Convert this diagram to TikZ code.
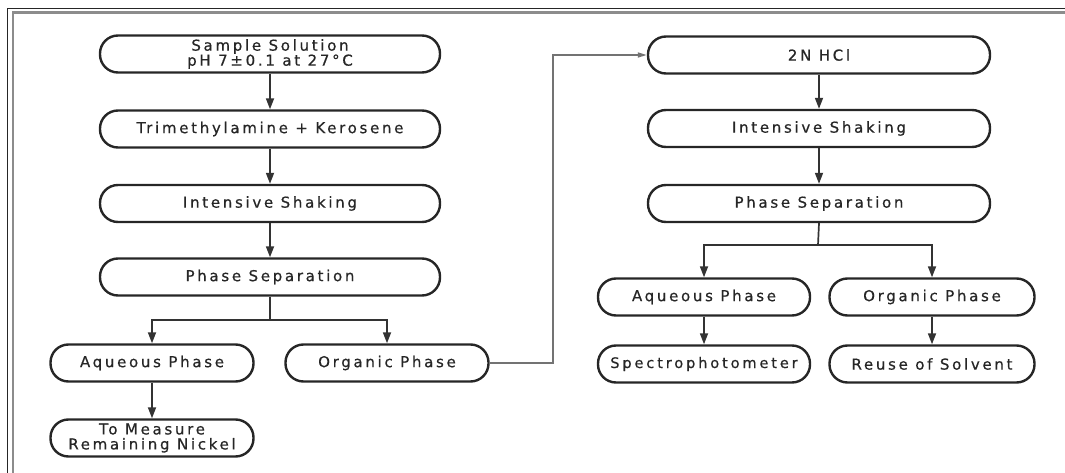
\documentclass[tikz,border=0pt]{standalone}
\usepackage{fontspec}
\setmainfont{DejaVu Sans}[LetterSpace=18, FakeBold=0.6]
\usetikzlibrary{arrows.meta}
\begin{document}
\begin{tikzpicture}[x=1pt,y=-1pt,
  box/.style={draw=black!85, line width=2.4pt, rounded corners=18pt,
    minimum height=37pt, inner sep=0pt, align=center,
    font=\fontsize{15}{15}\selectfont, text=black!85},
  widebox/.style={box, minimum width=340pt},
  smallbox/.style={box, minimum width=205pt},
  ln/.style={draw=black!80, line width=1.7pt},
  arr/.style={ln, -{Triangle[length=11pt,width=8pt]}},
  arrg/.style={draw=black!55, line width=1.6pt, -{Triangle[length=9pt,width=5pt]}},
]
\useasboundingbox (0,0) rectangle (1065,473);
% frame
\draw[black!85, line width=1.4pt] (7.5,473) -- (7.5,8.5) -- (1065,8.5);
\draw[black!45, line width=2.6pt] (13,473) -- (13,12.5) -- (1065,12.5);

% left column
\node[widebox] (s1) at (270,54) {Sample Solution\\pH 7±0.1 at 27°C};
\node[widebox] (tk) at (270,129) {Trimethylamine + Kerosene};
\node[widebox] (is1) at (270,203.5) {Intensive Shaking};
\node[widebox] (ps1) at (270,277) {Phase Separation};
\node[smallbox, minimum width=203pt] (aq1) at (152,363) {Aqueous Phase};
\node[smallbox, minimum width=203pt] (or1) at (387,363) {Organic Phase};
\node[smallbox, minimum width=203pt] (tm) at (152,438) {To Measure\\Remaining Nickel};

% right column
\node[widebox, minimum width=342pt] (hcl) at (819,55) {2N HCl};
\node[widebox, minimum width=342pt] (is2) at (819,128.5) {Intensive Shaking};
\node[widebox, minimum width=342pt] (ps2) at (819,203.5) {Phase Separation};
\node[smallbox, minimum width=212pt] (aq2) at (704,297) {Aqueous Phase};
\node[smallbox] (or2) at (932,297) {Organic Phase};
\node[smallbox, minimum width=212pt, font=\fontsize{14.5}{15}\selectfont\addfontfeatures{LetterSpace=20}] (sp) at (704,364) {Spectrophotometer};
\node[smallbox] (ru) at (932,364) {Reuse of Solvent};

% connectors left
\draw[arr] (s1) -- (tk);
\draw[arr] (tk) -- (is1);
\draw[arr] (is1) -- (ps1);
\coordinate (b1) at (270,320);
\draw[ln] (ps1.south) -- (b1);
\draw[arr] (b1) -| (aq1);
\draw[arr] (b1) -| (or1);
\draw[arr] (aq1) -- (tm);

% link to right column
\coordinate (v) at (553,200);
\draw[arrg] (or1.east) -- (or1.east -| v) -- (v |- hcl.west) -- (hcl.west);

% connectors right
\draw[arr] (hcl) -- (is2);
\draw[arr] (is2) -- (ps2);
\coordinate (b2) at (818,245);
\draw[ln] (ps2.south) -- (b2);
\draw[arr] (b2) -| (aq2);
\draw[arr] (b2) -| (or2);
\draw[arr] (aq2) -- (sp);
\draw[arr] (or2) -- (ru);
\end{tikzpicture}
\end{document}
